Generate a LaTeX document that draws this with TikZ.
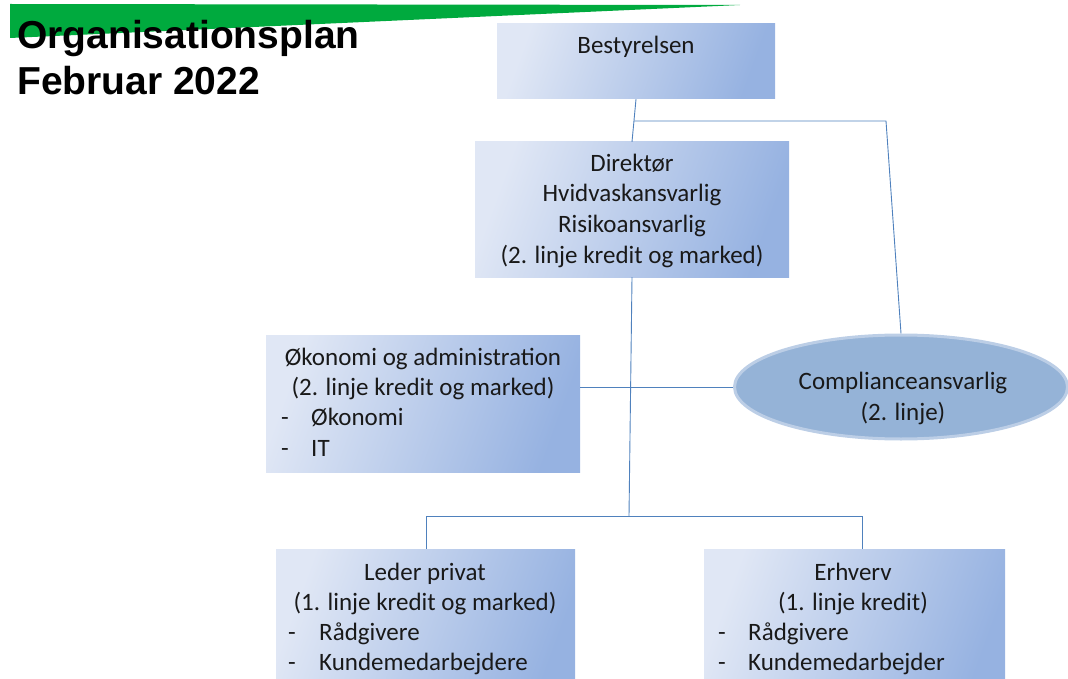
\documentclass[tikz,border=0pt]{standalone}
\usepackage{fontspec}
\setmainfont{Carlito}
\newfontfamily\titlefont{Liberation Sans}
\usetikzlibrary{shapes.geometric}
\definecolor{linec}{RGB}{79,129,189}
\definecolor{boxL}{RGB}{224,231,245}
\definecolor{boxR}{RGB}{150,178,225}
\definecolor{ellF}{RGB}{149,179,215}
\definecolor{ellB}{RGB}{188,206,230}
\definecolor{greenbar}{RGB}{0,170,62}
\newcommand{\boxfont}{\fontsize{25}{30.5}\selectfont}
\tikzset{
  orgbox/.style={shading=axis, top color=boxL, bottom color=boxR, shading angle=70, inner sep=0pt},
  txt/.style={anchor=base, font=\boxfont, inner sep=0pt, text=black!90},
  ltxt/.style={anchor=base west, font=\boxfont, inner sep=0pt, text=black!90},
  conn/.style={draw=linec, line width=0.9pt},
  ttl/.style={anchor=base west, font=\titlefont\bfseries\fontsize{39}{46}\selectfont, inner sep=0pt}
}
\begin{document}
\begin{tikzpicture}[x=1pt,y=-1pt]
\useasboundingbox (0,0) rectangle (1068,679);
% green bar
\fill[greenbar] (10,4) -- (740,5) -- (10,38) -- cycle;
\node[ttl] (title1) at (17,49) {Organisationsplan};
\node[ttl] (title2) at (17,95) {Februar 2022};

% boxes
\node[orgbox, minimum width=278pt, minimum height=75pt] (best) at (636,61.5) {};
\node[orgbox, minimum width=314pt, minimum height=135pt] (dir) at (632,209.5) {};
\node[orgbox, minimum width=314pt, minimum height=137pt] (oek) at (423,403.5) {};
\node[orgbox, minimum width=299pt, minimum height=150pt, anchor=north] (leder) at (425.5,549) {};
\node[orgbox, minimum width=301pt, minimum height=150pt, anchor=north] (erh) at (854.5,549) {};
\node[ellipse, fill=ellF, draw=ellB, line width=3pt, minimum width=333pt, minimum height=104pt, inner sep=0pt] (comp) at (901,387) {};

% connectors
\coordinate (b1) at (634,121);
\coordinate (b2) at (886,121);
\coordinate (d1) at (629,516);
\coordinate (l1) at (426,516);
\coordinate (e1) at (862,516);
\draw[conn] (best.south) -- (dir.north);
\draw[conn] (b1) -- (b2) -- (comp.north);
\draw[conn] (dir.south) -- (d1);
\draw[conn] (l1) -- (e1);
\draw[conn] (l1) -- (l1 |- leder.north);
\draw[conn] (e1) -- (e1 |- erh.north);
\draw[conn] (oek.east |- comp.west) -- (comp.west);

% texts
\node[txt] (tb) at (636,54) {Bestyrelsen};
\node[txt] (td1) at (632,172) {Direktør};
\node[txt] (td2) at (632,202) {Hvidvaskansvarlig};
\node[txt] (td3) at (632,232.5) {Risikoansvarlig};
\node[txt] (td4) at (632,263) {(2. linje kredit og marked)};

\node[txt] (to1) at (423,365) {Økonomi og administration};
\node[txt] (to2) at (423,395) {(2. linje kredit og marked)};
\node[ltxt] (to3d) at (281,425) {-};
\node[ltxt] (to3) at (311,425) {Økonomi};
\node[ltxt] (to4d) at (281,456) {-};
\node[ltxt] (to4) at (311,456) {IT};

\node[txt] (tc1) at (903,389) {Complianceansvarlig};
\node[txt] (tc2) at (903,420) {(2. linje)};

\node[txt] (tl1) at (425,580) {Leder privat};
\node[txt] (tl2) at (425,610) {(1. linje kredit og marked)};
\node[ltxt] (tl3d) at (288,640) {-};
\node[ltxt] (tl3) at (319,640) {Rådgivere};
\node[ltxt] (tl4d) at (288,670) {-};
\node[ltxt] (tl4) at (319,670) {Kundemedarbejdere};

\node[txt] (te1) at (853,580) {Erhverv};
\node[txt] (te2) at (853,610) {(1. linje kredit)};
\node[ltxt] (te3d) at (718,640) {-};
\node[ltxt] (te3) at (748,640) {Rådgivere};
\node[ltxt] (te4d) at (718,670) {-};
\node[ltxt] (te4) at (748,670) {Kundemedarbejder};
\end{tikzpicture}
\end{document}
